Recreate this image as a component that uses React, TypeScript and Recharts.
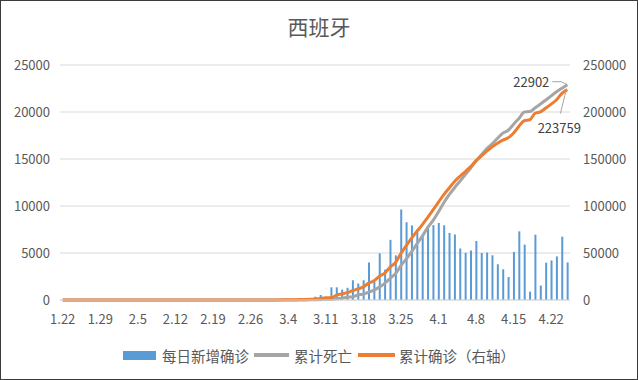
import React from 'react';
import {
  ComposedChart,
  Bar,
  Line,
  XAxis,
  YAxis,
  CartesianGrid,
  Legend,
} from 'recharts';

// 日期 1.22 - 4.25
const dates = [
  '1.22', '1.23', '1.24', '1.25', '1.26', '1.27', '1.28', '1.29', '1.30', '1.31',
  '2.1', '2.2', '2.3', '2.4', '2.5', '2.6', '2.7', '2.8', '2.9', '2.10',
  '2.11', '2.12', '2.13', '2.14', '2.15', '2.16', '2.17', '2.18', '2.19', '2.20',
  '2.21', '2.22', '2.23', '2.24', '2.25', '2.26', '2.27', '2.28', '2.29',
  '3.1', '3.2', '3.3', '3.4', '3.5', '3.6', '3.7', '3.8', '3.9', '3.10',
  '3.11', '3.12', '3.13', '3.14', '3.15', '3.16', '3.17', '3.18', '3.19', '3.20',
  '3.21', '3.22', '3.23', '3.24', '3.25', '3.26', '3.27', '3.28', '3.29', '3.30', '3.31',
  '4.1', '4.2', '4.3', '4.4', '4.5', '4.6', '4.7', '4.8', '4.9', '4.10',
  '4.11', '4.12', '4.13', '4.14', '4.15', '4.16', '4.17', '4.18', '4.19', '4.20',
  '4.21', '4.22', '4.23', '4.24', '4.25',
];

// 每日新增确诊（左轴）
const dailyNew = [
  0, 0, 0, 0, 0, 0, 0, 0, 0, 0,
  1, 0, 0, 0, 0, 0, 0, 0, 1, 0,
  0, 0, 0, 0, 0, 0, 0, 0, 0, 0,
  0, 0, 0, 0, 4, 7, 2, 17, 13,
  39, 36, 45, 57, 37, 141, 100, 173, 350, 530,
  0, 1350, 1350, 1100, 1300, 2100, 1750, 2100, 4000, 1950,
  4964, 3229, 6400, 4749, 9630, 8271, 7933, 7516, 6875, 7846, 7967,
  8195, 7947, 7134, 6969, 5478, 5029, 5267, 6278, 5002, 5051,
  4754, 3804, 3268, 2442, 5103, 7304, 5891, 887, 6948, 1536,
  3968, 4211, 4635, 6740, 3995,
];

// 累计死亡（左轴）
const cumDeaths = [
  0, 0, 0, 0, 0, 0, 0, 0, 0, 0,
  0, 0, 0, 0, 0, 0, 0, 0, 0, 0,
  0, 0, 0, 0, 0, 0, 0, 0, 0, 0,
  0, 0, 0, 0, 0, 0, 0, 0, 0,
  0, 0, 1, 2, 3, 5, 10, 17, 28, 35,
  54, 55, 133, 195, 289, 342, 533, 623, 830, 1043,
  1375, 1772, 2311, 2808, 3647, 4365, 5138, 5982, 6803, 7716, 8464,
  9387, 10348, 11198, 11947, 12641, 13341, 14045, 14792, 15447, 16081,
  16606, 17209, 17756, 18056, 18708, 19315, 20002, 20043, 20453, 20852,
  21282, 21717, 22157, 22524, 22902,
];

// 累计确诊（右轴）
const cumConfirmed = [
  0, 0, 0, 0, 0, 0, 0, 0, 0, 0,
  1, 1, 1, 1, 1, 1, 1, 1, 2, 2,
  2, 2, 2, 2, 2, 2, 2, 2, 2, 2,
  2, 2, 2, 2, 6, 13, 15, 32, 45,
  84, 120, 165, 222, 259, 400, 500, 673, 1073, 1695,
  2277, 2277, 5232, 6391, 7798, 9942, 11748, 13910, 17963, 20410,
  25374, 28603, 35136, 39885, 49515, 57786, 65719, 73235, 80110, 87956, 95923,
  104118, 112065, 119199, 126168, 131646, 136675, 141942, 148220, 153222, 158273,
  163027, 166831, 170099, 172541, 177644, 184948, 190839, 191726, 198674, 200210,
  204178, 208389, 213024, 219764, 223759,
];

const leftTicks = [0, 5000, 10000, 15000, 20000, 25000];
const rightTicks = [0, 50000, 100000, 150000, 200000, 250000];

const FONT = '"Noto Sans CJK SC", "Noto Sans", sans-serif';
const TEXT = '#595959';
const BLUE = '#5B9BD5';
const GRAY = '#A5A5A5';
const ORANGE = '#ED7D31';

const chartData = dates.map((date, i) => ({
  date,
  daily: dailyNew[i],
  deaths: cumDeaths[i],
  confirmed: cumConfirmed[i],
}));

const lastIndex = dates.length - 1;

const renderDeathLabel = (props: any) => {
  const { x, y, value, index } = props;
  if (index !== lastIndex) return null;
  return (
    <g>
      <polyline
        points={`${x - 15},${y - 3} ${x - 6},${y - 3} ${x},${y}`}
        fill="none"
        stroke={GRAY}
        strokeWidth={1}
      />
      <text
        x={x - 18}
        y={y - 3}
        textAnchor="end"
        dominantBaseline="central"
        fill="#404040"
        fontSize={13}
        fontFamily={FONT}
      >
        {value}
      </text>
    </g>
  );
};

const renderConfirmedLabel = (props: any) => {
  const { x, y, value, index } = props;
  if (index !== lastIndex) return null;
  return (
    <g>
      <line x1={x - 1} y1={y} x2={x - 7} y2={y + 24} stroke={GRAY} strokeWidth={1} />
      <text
        x={x - 8}
        y={y + 38}
        textAnchor="middle"
        dominantBaseline="central"
        fill="#404040"
        fontSize={13}
        fontFamily={FONT}
      >
        {value}
      </text>
    </g>
  );
};

const renderLegend = () => (
  <div
    style={{
      display: 'flex',
      justifyContent: 'center',
      alignItems: 'center',
      height: 20,
      fontFamily: FONT,
      fontSize: 14.5,
      color: TEXT,
      whiteSpace: 'nowrap',
    }}
  >
    <span style={{ width: 33, height: 9, background: BLUE, marginRight: 6 }} />
    <span>每日新增确诊</span>
    <span style={{ width: 35, height: 4, background: GRAY, margin: '0 5px' }} />
    <span>累计死亡</span>
    <span style={{ width: 37, height: 4, background: ORANGE, margin: '0 4px 0 6px' }} />
    <span>累计确诊（右轴）</span>
  </div>
);

export default function App() {
  return (
    <div
      style={{
        width: 638,
        height: 380,
        boxSizing: 'border-box',
        border: '1px solid #3b3b3b',
        background: '#fff',
        position: 'relative',
      }}
    >
      <style>{'body{margin:0}'}</style>
      <div
        style={{
          position: 'absolute',
          top: 10,
          left: 0,
          width: '100%',
          textAlign: 'center',
          fontSize: 21,
          color: TEXT,
          fontFamily: FONT,
        }}
      >
        西班牙
      </div>
      <ComposedChart
        width={636}
        height={378}
        data={chartData}
        margin={{ top: 64, right: 0, bottom: 14, left: 0 }}
      >
        <CartesianGrid yAxisId="left" vertical={false} stroke="#D9D9D9" />
        <XAxis
          dataKey="date"
          interval={6}
          tickLine={false}
          axisLine={{ stroke: '#D9D9D9' }}
          height={45}
          tickMargin={9}
          tick={{ fill: TEXT, fontSize: 13, fontFamily: FONT }}
        />
        <YAxis
          yAxisId="left"
          orientation="left"
          width={59}
          domain={[0, 25000]}
          ticks={leftTicks}
          axisLine={false}
          tickLine={false}
          tickMargin={4}
          tick={{ fill: TEXT, fontSize: 13, fontFamily: FONT }}
        />
        <YAxis
          yAxisId="right"
          orientation="right"
          width={67}
          domain={[0, 250000]}
          ticks={rightTicks}
          axisLine={false}
          tickLine={false}
          tickMargin={7}
          tick={{ fill: TEXT, fontSize: 13, fontFamily: FONT, textAnchor: 'start' }}
        />
        <Legend verticalAlign="bottom" height={20} content={renderLegend} />
        <Bar
          yAxisId="left"
          dataKey="daily"
          name="每日新增确诊"
          fill={BLUE}
          barSize={2}
          isAnimationActive={false}
        />
        <Line
          yAxisId="left"
          type="monotone"
          dataKey="deaths"
          name="累计死亡"
          stroke={GRAY}
          strokeWidth={3}
          dot={false}
          label={renderDeathLabel}
          isAnimationActive={false}
        />
        <Line
          yAxisId="right"
          type="monotone"
          dataKey="confirmed"
          name="累计确诊（右轴）"
          stroke={ORANGE}
          strokeWidth={3}
          dot={false}
          label={renderConfirmedLabel}
          isAnimationActive={false}
        />
      </ComposedChart>
    </div>
  );
}
